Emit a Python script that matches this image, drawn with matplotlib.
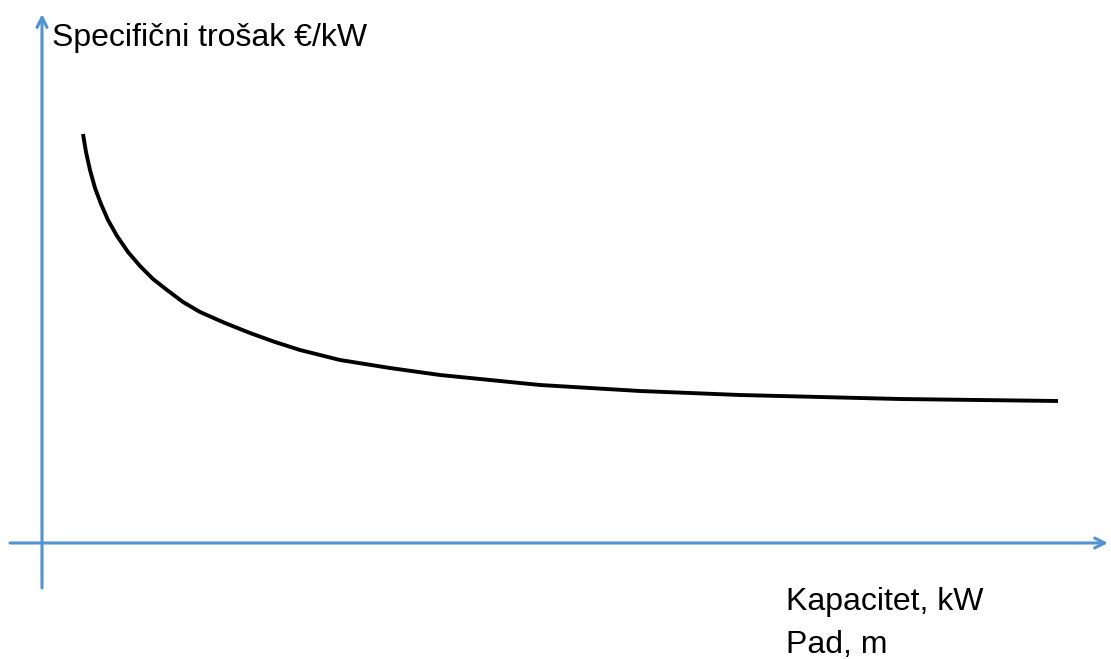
import matplotlib.pyplot as plt

# Podaci: krivulja specificnog troska (shematski, bez mjernih jedinica)
capacity = [41, 44, 48, 53, 59, 66, 75, 86, 98, 111, 125, 141, 158, 183, 208,
            233, 258, 298, 348, 398, 448, 498, 598, 698, 858, 1016]
cost = [409, 391, 373, 355, 339, 323, 307, 291, 277, 264, 253, 241, 231, 220, 210,
        201, 193, 183, 175, 168, 163, 158, 152, 148, 144, 142]

y_label = 'Specifični trošak €/kW'
x_label_1 = 'Kapacitet, kW'
x_label_2 = 'Pad, m'

axis_color = '#4F93D2'
font = ['Liberation Sans', 'DejaVu Sans']

fig = plt.figure(figsize=(11.11, 6.59), dpi=100)
ax = fig.add_axes([0, 0, 1, 1])
ax.set_xlim(-42, 1069)
ax.set_ylim(-116, 543)
ax.axis('off')

# Osi sa strelicama
arrow = dict(arrowstyle='->', color=axis_color, lw=2.2, mutation_scale=18,
             shrinkA=0, shrinkB=0)
ax.annotate('', xy=(0, 529), xytext=(0, -45), arrowprops=arrow)
ax.annotate('', xy=(1066, 0), xytext=(-32, 0), arrowprops=arrow)

# Krivulja
ax.plot(capacity, cost, color='black', lw=2.8, solid_capstyle='butt',
        solid_joinstyle='round')

# Natpisi
ax.text(10, 497, y_label, family=font, fontsize=23, ha='left', va='baseline')
ax.text(744, -67, x_label_1, family=font, fontsize=23, ha='left', va='baseline')
ax.text(744, -110, x_label_2, family=font, fontsize=23, ha='left', va='baseline')

fig.savefig('out.png', dpi=100)
